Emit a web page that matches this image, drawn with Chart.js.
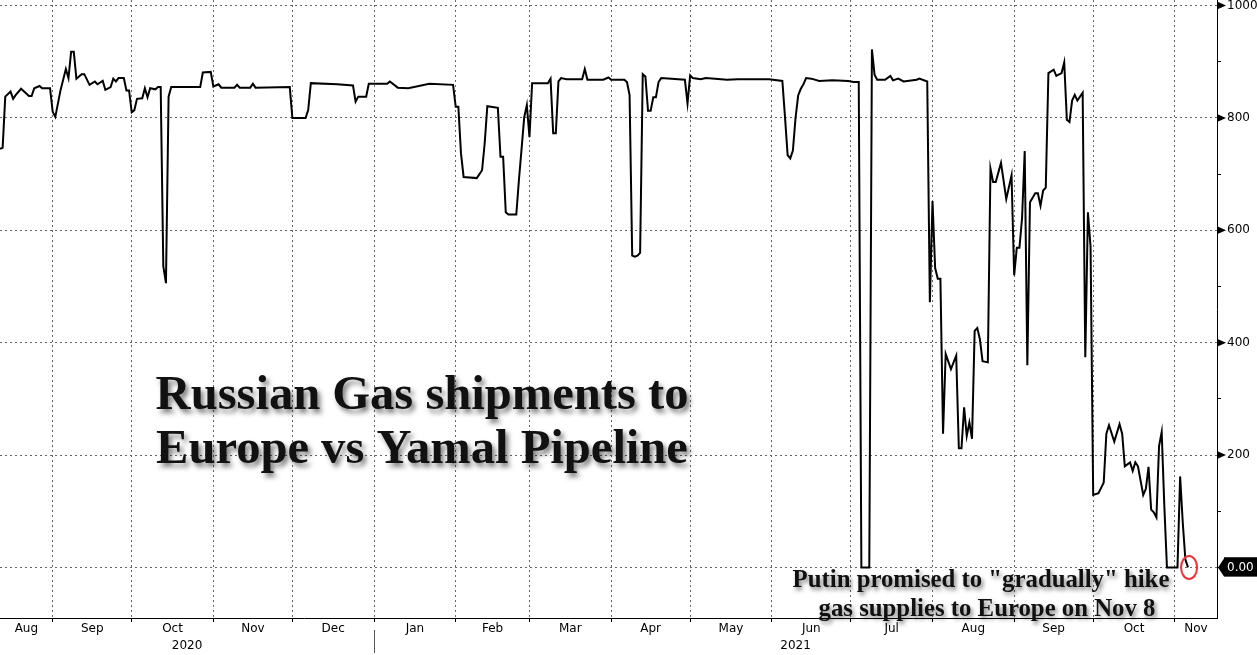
<!DOCTYPE html>
<html>
<head>
<meta charset="utf-8">
<title>Russian Gas shipments to Europe vs Yamal Pipeline</title>
<script src="https://cdn.jsdelivr.net/npm/chart.js@4.4.1/dist/chart.umd.min.js"></script>
<style>
  html, body { margin: 0; padding: 0; background: #fff; }
  #wrap { width: 1257px; height: 655px; }
</style>
</head>
<body>
<div id="wrap"><canvas id="gasChart" width="1257" height="655"></canvas></div>
<script>
// days since 12 Aug 2020, and the flow
const days = [
  0, 1, 2, 4, 5, 6, 8, 11, 12, 13, 15, 16, 19, 20, 21, 23, 25, 26, 27, 28, 29, 31, 32, 34, 36, 37, 39, 40,
  42, 43, 44, 45, 47, 48, 49, 50, 51, 52, 54, 55, 56, 57, 59, 60, 61, 62, 63, 64, 65, 76, 77, 80, 81, 83,
  84, 89, 90, 91, 95, 96, 97, 110, 111, 116, 117, 118, 128, 134, 135, 136, 139, 140, 147, 148, 151, 155,
  163, 172, 173, 174, 175, 176, 181, 183, 184, 185, 189, 190, 191, 192, 193, 196, 197, 198, 199, 200, 201,
  202, 208, 209, 210, 211, 212, 213, 215, 221, 222, 223, 229, 231, 232, 237, 238, 239, 240, 241, 242, 243,
  244, 245, 246, 247, 248, 249, 250, 251, 260, 261, 262, 263, 266, 268, 276, 280, 292, 297, 298, 299, 300,
  301, 302, 303, 304, 305, 306, 308, 311, 316, 322, 324, 326, 327, 330, 331, 332, 333, 336, 338, 339, 341,
  343, 348, 349, 352, 353, 354, 355, 356, 357, 358, 359, 361, 363, 364, 365, 366, 367, 368, 369, 370, 371,
  372, 373, 375, 376, 377, 378, 380, 382, 384, 385, 386, 387, 388, 389, 390, 391, 393, 394, 395, 396, 397,
  398, 400, 401, 403, 404, 405, 406, 407, 408, 409, 411, 412, 413, 414, 415, 417, 419, 420, 421, 423, 425,
  426, 427, 429, 430, 431, 432, 434, 435, 436, 437, 438, 439, 440, 441, 442, 443, 447, 448, 449, 450, 451
];
const flows = [
  745, 747, 838, 847, 834, 841, 852, 839, 839, 853, 857, 853, 853, 811, 802, 850, 887, 871, 918, 918, 870, 878, 878, 859, 865, 860, 866, 850,
  855, 870, 865, 871, 871, 849, 849, 810, 814, 834, 835, 853, 837, 853, 851, 855, 855, 536, 506, 838, 855, 855, 881, 882, 856, 860,
  854, 854, 859, 854, 854, 861, 854, 855, 800, 800, 814, 862, 860, 858, 829, 838, 838, 861, 861, 865, 854, 853,
  861, 859, 820, 820, 737, 695, 693, 707, 755, 821, 818, 731, 731, 632, 628, 628, 690, 745, 801, 823, 766,
  862, 862, 870, 773, 773, 865, 871, 869, 869, 887, 868, 868, 872, 868, 868, 864, 841, 555, 553, 555, 560,
  878, 874, 813, 813, 837, 837, 864, 871, 868, 826, 876, 871, 869, 871, 868, 869, 869, 866, 802, 734, 728,
  742, 800, 840, 852, 860, 871, 870, 866, 867, 866, 864, 864, 0, 0, 922, 877, 868, 868, 875, 867, 870,
  865, 868, 870, 865, 472, 652, 533, 514, 514, 238, 380, 353, 377, 212, 212, 285, 234, 258, 229, 421, 426,
  406, 367, 365, 710, 686, 686, 720, 656, 698, 520, 569, 569, 622, 741, 360, 650, 666, 666, 644, 671, 676,
  880, 886, 875, 880, 899, 797, 793, 831, 841, 831, 845, 374, 632, 571, 129, 132, 151, 238, 253, 224, 255,
  238, 180, 187, 172, 187, 180, 129, 140, 179, 103, 98, 89, 216, 241, 110, 0, 0, 162, 80, 14, 0
];

const monthLabels = ['Aug', 'Sep', 'Oct', 'Nov', 'Dec', 'Jan', 'Feb', 'Mar', 'Apr', 'May', 'Jun', 'Jul', 'Aug', 'Sep', 'Oct', 'Nov'];
const yearLabels = ['2020', '2021'];
const yTicks = [0, 100, 200, 300, 400, 500, 600, 700, 800, 900, 1000];
const titleLines = ['Russian Gas shipments to', 'Europe vs Yamal Pipeline'];
const noteLines = ['Putin promised to "gradually" hike', 'gas supplies to Europe on Nov 8'];
const markedPoint = { day: 451.4, value: 0 };

// calendar helpers
const startUTC = Date.UTC(2020, 7, 12);
const dayOf = (y, m, d) => (Date.UTC(y, m, d) - startUTC) / 864e5;
const xMax = 462;

const monthStarts = [];
for (let i = 0; i < monthLabels.length - 1; i++) monthStarts.push(dayOf(2020, 8 + i, 1));
const bounds = [0, ...monthStarts, xMax];
const monthMids = monthLabels.map((_, i) => (bounds[i] + bounds[i + 1]) / 2);
const yearSplit = dayOf(2021, 0, 1);
const yearMids = [yearSplit / 2, (yearSplit + xMax) / 2];

const axisFont = { family: "'DejaVu Sans', sans-serif", size: 12 };

// little arrows on the value axis, the year divider, the red ring and the captions
const extras = {
  id: 'extras',
  afterDraw(chart) {
    const ctx = chart.ctx;
    const y = chart.scales.y;
    const x = chart.scales.x;
    const area = chart.chartArea;
    ctx.save();
    ctx.fillStyle = '#000';
    yTicks.forEach(v => {
      const py = y.getPixelForValue(v);
      if (v === 0) {
        ctx.beginPath();
        ctx.moveTo(area.right + 1, py);
        ctx.lineTo(area.right + 7, py - 9);
        ctx.lineTo(area.right + 7, py + 9);
        ctx.closePath();
        ctx.fill();
      } else if (v % 200 === 0) {
        ctx.beginPath();
        ctx.moveTo(area.right, py - 4);
        ctx.lineTo(area.right + 9, py);
        ctx.lineTo(area.right, py + 4);
        ctx.closePath();
        ctx.fill();
      }
    });

    // year divider under the month labels
    const sx = Math.round(x.getPixelForValue(yearSplit)) + 0.5;
    ctx.strokeStyle = '#555';
    ctx.lineWidth = 1;
    ctx.beginPath();
    ctx.moveTo(sx, area.bottom + 12);
    ctx.lineTo(sx, chart.height - 2);
    ctx.stroke();

    // red ring round the last reading
    ctx.strokeStyle = '#e8343a';
    ctx.lineWidth = 2;
    ctx.beginPath();
    ctx.ellipse(x.getPixelForValue(markedPoint.day), y.getPixelForValue(markedPoint.value), 8, 11.5, 0, 0, Math.PI * 2);
    ctx.stroke();

    // captions
    const serif = "'Liberation Serif', 'DejaVu Serif', 'Times New Roman', serif";
    const fit = (text, width) => {
      ctx.font = 'bold 100px ' + serif;
      return 100 * width / ctx.measureText(text).width;
    };
    ctx.fillStyle = '#111';
    ctx.textAlign = 'center';
    ctx.textBaseline = 'alphabetic';
    ctx.shadowColor = 'rgba(0,0,0,0.5)';
    ctx.shadowOffsetX = 3;
    ctx.shadowOffsetY = 4;
    ctx.shadowBlur = 5;

    const ts = fit(titleLines[0], 533);
    ctx.font = 'bold ' + ts + 'px ' + serif;
    ctx.fillText(titleLines[0], 422, 409);
    ctx.fillText(titleLines[1], 422, 463);

    const ns = fit(noteLines[0], 377);
    ctx.font = 'bold ' + ns + 'px ' + serif;
    ctx.shadowOffsetX = 2;
    ctx.shadowOffsetY = 3;
    ctx.shadowBlur = 4;
    ctx.fillText(noteLines[0], 981, 587);
    ctx.fillText(noteLines[1], 987, 616);
    ctx.restore();
  }
};

const ctx = document.getElementById('gasChart').getContext('2d');

const gasChart = new Chart(ctx, {
  type: 'line',
  data: {
    datasets: [{
      label: 'Yamal flows',
      data: days.map((d, i) => ({ x: d, y: flows[i] })),
      borderColor: '#000',
      borderWidth: 2,
      pointRadius: 0,
      tension: 0,
      fill: false
    }]
  },
  options: {
    responsive: false,
    animation: false,
    layout: { padding: 0 },
    plugins: {
      legend: { display: false },
      title: { display: false },
      tooltip: { enabled: false }
    },
    scales: {
      x: {
        type: 'linear',
        position: 'bottom',
        weight: 0,
        min: 0,
        max: xMax,
        afterBuildTicks: s => { s.ticks = monthStarts.map(v => ({ value: v })); },
        ticks: { display: false },
        grid: { color: '#666', lineWidth: 1, drawTicks: true, tickLength: 4, tickColor: '#000', tickBorderDash: [] },
        border: { color: '#000', width: 1, dash: [2, 3] },
        afterFit: s => { s.height = 4; s.paddingLeft = 0; s.paddingRight = 0; }
      },
      months: {
        type: 'linear',
        position: 'bottom',
        weight: 1,
        min: 0,
        max: xMax,
        afterBuildTicks: s => { s.ticks = monthMids.map(v => ({ value: v })); },
        ticks: {
          autoSkip: false,
          maxRotation: 0,
          padding: 0,
          color: '#000',
          font: axisFont,
          callback: (v, i) => monthLabels[i]
        },
        grid: { display: false, drawTicks: false, tickLength: 0 },
        border: { display: false },
        afterFit: s => { s.height = 17; s.paddingLeft = 0; s.paddingRight = 0; }
      },
      years: {
        type: 'linear',
        position: 'bottom',
        weight: 2,
        min: 0,
        max: xMax,
        afterBuildTicks: s => { s.ticks = yearMids.map(v => ({ value: v })); },
        ticks: {
          autoSkip: false,
          maxRotation: 0,
          padding: 0,
          color: '#000',
          font: axisFont,
          callback: (v, i) => yearLabels[i]
        },
        grid: { display: false, drawTicks: false, tickLength: 0 },
        border: { display: false },
        afterFit: s => { s.height = 16; s.paddingLeft = 0; s.paddingRight = 0; }
      },
      y: {
        type: 'linear',
        position: 'right',
        min: -90,
        max: 1010,
        afterBuildTicks: s => { s.ticks = yTicks.map(v => ({ value: v })); },
        ticks: {
          padding: 6,
          font: axisFont,
          color: c => (c.tick && c.tick.value === 0 ? '#fff' : '#000'),
          showLabelBackdrop: c => !!(c.tick && c.tick.value === 0),
          backdropColor: '#000',
          backdropPadding: { top: 3, bottom: 2, left: 3, right: 8 },
          callback: v => (v === 0 ? '0.00' : (v % 200 === 0 ? String(v) : ''))
        },
        grid: {
          color: c => (c.tick && c.tick.value % 200 === 0 ? '#666' : 'rgba(0,0,0,0)'),
          lineWidth: 1,
          drawTicks: true,
          tickLength: 4,
          tickColor: '#000',
          tickBorderDash: []
        },
        border: { color: '#000', width: 1, dash: [2, 3] },
        afterFit: s => { s.width = 40; s.paddingTop = 0; s.paddingBottom = 0; }
      }
    }
  },
  plugins: [extras]
});
</script>
</body>
</html>
